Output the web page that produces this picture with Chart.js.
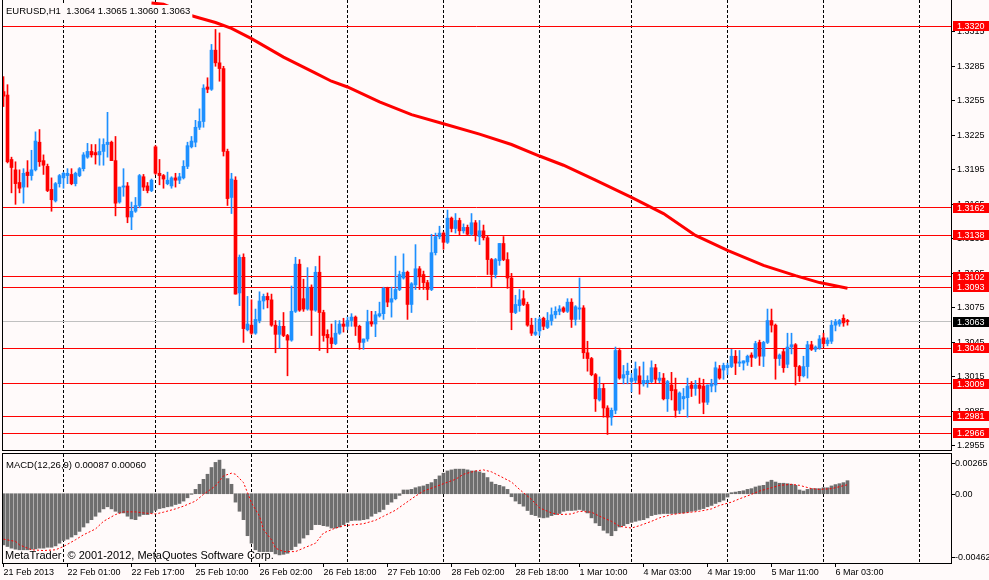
<!DOCTYPE html>
<html><head><meta charset="utf-8">
<script src="https://cdn.jsdelivr.net/npm/chart.js@4.4.0/dist/chart.umd.min.js"></script>
<style>
html,body{margin:0;padding:0;background:#fffafa;width:989px;height:580px;overflow:hidden}
canvas{position:absolute;left:0}
#c1{top:0}
#c2{top:452px}
</style></head><body>
<canvas id="c1" width="989" height="452"></canvas>
<canvas id="c2" width="989" height="128"></canvas>
<script>
// ---- EURUSD H1 candles (bar 0 = 21 Feb 2013 09:00) ----
const openP = [
1.3263,1.3260,1.3204,1.3195,1.3184,1.3180,1.3193,1.3190,1.3195,1.3219,
1.3203,1.3198,1.3178,1.3168,1.3183,1.3188,1.3190,1.3191,1.3183,1.3190,
1.3196,1.3206,1.3211,1.3210,1.3208,1.3211,1.3217,1.3219,1.3203,1.3167,
1.3180,1.3181,1.3154,1.3159,1.3164,1.3189,1.3181,1.3177,1.3215,1.3192,
1.3190,1.3183,1.3181,1.3188,1.3186,1.3188,1.3198,1.3215,1.3219,1.3232,
1.3237,1.3267,1.3265,1.3299,1.3288,1.3283,1.3211,1.3171,1.3186,1.3088,
1.3119,1.3056,1.3060,1.3053,1.3064,1.3081,1.3085,1.3082,1.3060,1.3052,
1.3059,1.3051,1.3047,1.3072,1.3113,1.3083,1.3074,1.3093,1.3073,1.3106,
1.3071,1.3052,1.3049,1.3044,1.3053,1.3061,1.3059,1.3064,1.3067,1.3059,
1.3045,1.3048,1.3063,1.3061,1.3068,1.3070,1.3092,1.3080,1.3083,1.3091,
1.3101,1.3106,1.3078,1.3095,1.3109,1.3104,1.3097,1.3091,1.3123,1.3137,
1.3140,1.3132,1.3153,1.3144,1.3151,1.3142,1.3145,1.3139,1.3149,1.3137,
1.3142,1.3136,1.3117,1.3104,1.3116,1.3131,1.3117,1.3101,1.3071,1.3077,
1.3083,1.3078,1.3060,1.3052,1.3055,1.3066,1.3058,1.3064,1.3069,1.3072,
1.3075,1.3072,1.3080,1.3065,1.3074,1.3075,1.3036,1.3031,1.3017,1.2995,
1.3005,1.2988,1.2980,1.2986,1.3038,1.3014,1.3017,1.3011,1.3012,1.3016,
1.3009,1.3010,1.3011,1.3023,1.3012,1.3014,1.2996,1.3008,1.3004,1.2986,
1.2996,1.2997,1.3008,1.3005,1.3008,1.3007,1.2993,1.3007,1.3008,1.3022,
1.3021,1.3023,1.3024,1.3033,1.3027,1.3027,1.3028,1.3034,1.3032,1.3045,
1.3033,1.3045,1.3064,1.3060,1.3031,1.3037,1.3026,1.3041,1.3043,1.3024,
1.3016,1.3024,1.3043,1.3039,1.3040,1.3049,1.3044,1.3046,1.3060,1.3061,
1.3066,1.3064];
const highP = [
1.3276,1.3269,1.3206,1.3202,1.3195,1.3196,1.3203,1.3212,1.3228,1.3230,
1.3208,1.3200,1.3188,1.3184,1.3191,1.3193,1.3196,1.3196,1.3193,1.3197,
1.3210,1.3218,1.3217,1.3217,1.3222,1.3222,1.3245,1.3220,1.3224,1.3180,
1.3196,1.3184,1.3167,1.3171,1.3191,1.3191,1.3184,1.3187,1.3216,1.3204,
1.3191,1.3193,1.3189,1.3192,1.3192,1.3203,1.3219,1.3224,1.3238,1.3248,
1.3269,1.3275,1.3304,1.3317,1.3314,1.3285,1.3213,1.3192,1.3189,1.3121,
1.3122,1.3085,1.3082,1.3074,1.3089,1.3087,1.3088,1.3087,1.3064,1.3064,
1.3071,1.3052,1.3094,1.3119,1.3117,1.3100,1.3110,1.3095,1.3111,1.3120,
1.3073,1.3056,1.3061,1.3064,1.3064,1.3066,1.3067,1.3070,1.3068,1.3060,
1.3048,1.3073,1.3072,1.3072,1.3080,1.3093,1.3093,1.3093,1.3120,1.3107,
1.3122,1.3107,1.3097,1.3130,1.3111,1.3107,1.3099,1.3139,1.3140,1.3146,
1.3141,1.3160,1.3154,1.3157,1.3153,1.3148,1.3147,1.3157,1.3151,1.3151,
1.3147,1.3138,1.3118,1.3118,1.3131,1.3137,1.3123,1.3105,1.3086,1.3091,
1.3090,1.3080,1.3066,1.3066,1.3067,1.3067,1.3071,1.3075,1.3076,1.3077,
1.3076,1.3083,1.3083,1.3077,1.3101,1.3077,1.3046,1.3032,1.3018,1.3015,
1.3009,1.2990,1.2988,1.3041,1.3040,1.3025,1.3027,1.3018,1.3028,1.3024,
1.3028,1.3016,1.3029,1.3026,1.3019,1.3018,1.3012,1.3019,1.3014,1.3002,
1.3005,1.3014,1.3011,1.3012,1.3014,1.3013,1.3008,1.3013,1.3028,1.3025,
1.3027,1.3027,1.3039,1.3038,1.3038,1.3029,1.3034,1.3036,1.3046,1.3047,
1.3046,1.3074,1.3074,1.3061,1.3035,1.3039,1.3053,1.3053,1.3044,1.3025,
1.3033,1.3046,1.3046,1.3042,1.3051,1.3053,1.3049,1.3064,1.3065,1.3065,
1.3069,1.3065];
const lowP = [
1.3250,1.3201,1.3175,1.3165,1.3175,1.3166,1.3180,1.3186,1.3194,1.3198,
1.3191,1.3176,1.3159,1.3167,1.3180,1.3179,1.3183,1.3182,1.3181,1.3189,
1.3194,1.3205,1.3206,1.3200,1.3199,1.3199,1.3206,1.3203,1.3155,1.3166,
1.3172,1.3149,1.3143,1.3158,1.3162,1.3177,1.3175,1.3176,1.3191,1.3182,
1.3179,1.3182,1.3179,1.3180,1.3183,1.3187,1.3196,1.3214,1.3215,1.3230,
1.3232,1.3262,1.3264,1.3285,1.3272,1.3207,1.3164,1.3157,1.3087,1.3077,
1.3045,1.3055,1.3052,1.3052,1.3062,1.3074,1.3075,1.3059,1.3036,1.3040,
1.3050,1.3016,1.3046,1.3071,1.3072,1.3072,1.3073,1.3051,1.3072,1.3038,
1.3046,1.3036,1.3040,1.3043,1.3052,1.3054,1.3056,1.3059,1.3051,1.3039,
1.3039,1.3046,1.3059,1.3050,1.3067,1.3065,1.3076,1.3067,1.3082,1.3090,
1.3100,1.3065,1.3071,1.3091,1.3091,1.3091,1.3082,1.3090,1.3121,1.3135,
1.3126,1.3131,1.3141,1.3140,1.3138,1.3140,1.3138,1.3138,1.3133,1.3130,
1.3134,1.3104,1.3093,1.3101,1.3112,1.3116,1.3092,1.3056,1.3070,1.3072,
1.3077,1.3059,1.3051,1.3051,1.3051,1.3056,1.3057,1.3060,1.3066,1.3069,
1.3071,1.3071,1.3058,1.3060,1.3065,1.3031,1.3020,1.3016,1.2985,1.2994,
1.2980,1.2965,1.2973,1.2983,1.3013,1.3009,1.3009,1.3002,1.3010,1.3000,
1.3007,1.3006,1.3010,1.3010,1.3010,1.2995,1.2985,1.2995,1.2980,1.2983,
1.2987,1.2980,1.2998,1.2999,1.2992,1.2983,1.2991,1.3002,1.3002,1.3013,
1.3013,1.3017,1.3023,1.3017,1.3024,1.3021,1.3025,1.3024,1.3031,1.3025,
1.3024,1.3044,1.3054,1.3013,1.3025,1.3019,1.3023,1.3035,1.3008,1.3011,
1.3015,1.3014,1.3038,1.3037,1.3039,1.3041,1.3042,1.3044,1.3055,1.3059,
1.3059,1.3060];
const closeP = [
1.3259,1.3202,1.3197,1.3183,1.3179,1.3192,1.3190,1.3195,1.3220,1.3202,
1.3199,1.3177,1.3169,1.3183,1.3190,1.3192,1.3192,1.3183,1.3192,1.3196,
1.3208,1.3211,1.3208,1.3208,1.3211,1.3217,1.3219,1.3203,1.3166,1.3180,
1.3181,1.3154,1.3159,1.3164,1.3190,1.3180,1.3177,1.3186,1.3192,1.3190,
1.3187,1.3186,1.3188,1.3186,1.3189,1.3198,1.3216,1.3220,1.3232,1.3237,
1.3266,1.3265,1.3299,1.3288,1.3283,1.3211,1.3170,1.3187,1.3087,1.3119,
1.3057,1.3061,1.3053,1.3065,1.3081,1.3085,1.3082,1.3060,1.3052,1.3059,
1.3051,1.3047,1.3072,1.3113,1.3073,1.3074,1.3093,1.3073,1.3106,1.3071,
1.3051,1.3049,1.3044,1.3053,1.3061,1.3059,1.3064,1.3067,1.3059,1.3045,
1.3048,1.3063,1.3061,1.3069,1.3070,1.3092,1.3080,1.3083,1.3091,1.3104,
1.3106,1.3078,1.3096,1.3109,1.3102,1.3097,1.3091,1.3123,1.3137,1.3140,
1.3132,1.3153,1.3144,1.3151,1.3142,1.3145,1.3139,1.3149,1.3138,1.3142,
1.3136,1.3117,1.3104,1.3117,1.3131,1.3117,1.3101,1.3071,1.3078,1.3082,
1.3078,1.3060,1.3053,1.3054,1.3065,1.3059,1.3064,1.3069,1.3072,1.3074,
1.3072,1.3080,1.3065,1.3076,1.3075,1.3036,1.3031,1.3017,1.2996,1.3005,
1.2988,1.2980,1.2986,1.3038,1.3014,1.3017,1.3020,1.3014,1.3022,1.3009,
1.3012,1.3012,1.3023,1.3013,1.3014,1.2996,1.3011,1.3003,1.2986,1.3001,
1.2998,1.3007,1.3005,1.3008,1.3005,1.2993,1.3008,1.3009,1.3023,1.3014,
1.3025,1.3025,1.3033,1.3027,1.3028,1.3029,1.3033,1.3032,1.3044,1.3033,
1.3045,1.3064,1.3060,1.3031,1.3034,1.3023,1.3041,1.3043,1.3024,1.3016,
1.3024,1.3043,1.3039,1.3041,1.3048,1.3044,1.3047,1.3060,1.3063,1.3064,
1.3062,1.3063];

// ---- Moving average (read at sampled bars) ----
const maIdx = [37,40,46,49,53,57,62,66,70,74,78,82,86,94,102,110,119,127,134,140,148,157,165,173,181,190,198,204,211];
const maVal = [1.3340,1.3339,1.3330,1.3327,1.3323,1.3318,1.3309,1.3301,1.3293,1.3286,1.3279,1.3272,1.3267,1.3254,1.3243,1.3235,1.3226,1.3217,1.3207,1.3199,1.3186,1.3171,1.3157,1.3138,1.3125,1.3112,1.3103,1.3097,1.3092];

// ---- MACD(12,26,9) histogram ----
const macdHist = [
-0.00341,-0.00352,-0.00363,-0.00370,-0.00374,-0.00374,-0.00374,-0.00370,-0.00368,-0.00363,
-0.00363,-0.00357,-0.00357,-0.00348,-0.00330,-0.00312,-0.00303,-0.00289,-0.00274,-0.00251,
-0.00222,-0.00195,-0.00173,-0.00150,-0.00123,-0.00101,-0.00087,-0.00101,-0.00117,-0.00128,
-0.00128,-0.00150,-0.00168,-0.00173,-0.00150,-0.00139,-0.00139,-0.00128,-0.00110,-0.00099,
-0.00094,-0.00087,-0.00083,-0.00072,-0.00065,-0.00049,-0.00027,-0.00004,0.00029,0.00063,
0.00096,0.00130,0.00175,0.00209,0.00224,0.00164,0.00101,0.00063,-0.00056,-0.00117,
-0.00173,-0.00280,-0.00330,-0.00374,-0.00386,-0.00386,-0.00386,-0.00386,-0.00401,-0.00408,
-0.00404,-0.00397,-0.00374,-0.00352,-0.00330,-0.00296,-0.00274,-0.00240,-0.00206,-0.00206,
-0.00213,-0.00217,-0.00229,-0.00229,-0.00222,-0.00206,-0.00191,-0.00179,-0.00177,-0.00177,
-0.00173,-0.00168,-0.00150,-0.00132,-0.00121,-0.00105,-0.00072,-0.00056,-0.00034,-0.00011,
0.00025,0.00025,0.00029,0.00040,0.00047,0.00052,0.00063,0.00074,0.00096,0.00119,
0.00137,0.00152,0.00159,0.00164,0.00164,0.00164,0.00159,0.00152,0.00152,0.00146,
0.00137,0.00108,0.00078,0.00063,0.00056,0.00047,0.00029,-0.00020,-0.00049,-0.00067,
-0.00083,-0.00112,-0.00139,-0.00146,-0.00157,-0.00161,-0.00157,-0.00146,-0.00139,-0.00132,
-0.00117,-0.00112,-0.00112,-0.00110,-0.00105,-0.00112,-0.00128,-0.00161,-0.00195,-0.00213,
-0.00244,-0.00262,-0.00280,-0.00247,-0.00222,-0.00213,-0.00200,-0.00191,-0.00184,-0.00177,
-0.00173,-0.00161,-0.00146,-0.00139,-0.00135,-0.00132,-0.00132,-0.00132,-0.00132,-0.00128,
-0.00128,-0.00123,-0.00117,-0.00112,-0.00105,-0.00099,-0.00087,-0.00078,-0.00065,-0.00054,
-0.00043,-0.00022,0.00007,0.00011,0.00016,0.00020,0.00029,0.00034,0.00045,0.00052,
0.00056,0.00078,0.00090,0.00078,0.00070,0.00070,0.00067,0.00063,0.00056,0.00025,
0.00018,0.00029,0.00034,0.00034,0.00034,0.00040,0.00040,0.00052,0.00061,0.00067,
0.00074,0.00087];
// ---- MACD signal line (read at sampled bars) ----
const sigIdx = [0,3,4,7,10,13,15,18,20,23,25,28,30,33,35,38,40,43,45,48,50,53,55,57,58,60,61,62,64,65,67,68,70,73,75,78,80,83,85,88,90,93,95,98,100,103,105,108,110,113,115,118,120,122,124,127,129,132,134,137,139,142,144,147,149,152,154,157,159,162,164,167,169,172,174,177,179,182,184,187,189,192,194,197,199,202,204,207,209,211];
const sigVal = [-0.00303,-0.00318,-0.00341,-0.00374,-0.00379,-0.00374,-0.00352,-0.00307,-0.00274,-0.00235,-0.00184,-0.00139,-0.00121,-0.00121,-0.00128,-0.00135,-0.00123,-0.00101,-0.00083,-0.00049,-0.00004,0.00052,0.00119,0.00137,0.00130,0.00074,0.00007,-0.00061,-0.00150,-0.00240,-0.00307,-0.00363,-0.00386,-0.00386,-0.00363,-0.00330,-0.00262,-0.00229,-0.00213,-0.00206,-0.00200,-0.00177,-0.00150,-0.00110,-0.00072,-0.00016,0.00018,0.00047,0.00067,0.00096,0.00130,0.00152,0.00159,0.00146,0.00119,0.00078,0.00029,-0.00038,-0.00094,-0.00128,-0.00139,-0.00135,-0.00117,-0.00123,-0.00150,-0.00184,-0.00217,-0.00229,-0.00213,-0.00184,-0.00161,-0.00139,-0.00132,-0.00123,-0.00117,-0.00101,-0.00078,-0.00056,-0.00034,-0.00004,0.00018,0.00040,0.00056,0.00063,0.00056,0.00034,0.00029,0.00034,0.00047,0.00060];

// ---- Levels, ticks, labels ----
const hLevels = [1.3320,1.3162,1.3138,1.3102,1.3093,1.3040,1.3009,1.2981,1.2966];
const bidPrice = 1.3063;
const yTicks = [1.3315,1.3285,1.3255,1.3225,1.3195,1.3165,1.3135,1.3105,1.3075,1.3045,1.3015,1.2985,1.2955];
const macdTicks = [0.00265,0.00,-0.00462];
const macdTickText = ["0.00265","0.00","-0.00462"];
const xLabelIdx = [0,16,32,48,64,80,96,112,128,144,160,176,192,208];
const xLabels = ["21 Feb 2013","22 Feb 01:00","22 Feb 17:00","25 Feb 10:00","26 Feb 02:00","26 Feb 18:00","27 Feb 10:00","28 Feb 02:00","28 Feb 18:00","1 Mar 10:00","4 Mar 03:00","4 Mar 19:00","5 Mar 11:00","6 Mar 03:00"];
const dayStartIdx = [15,38,62,86,110,134,157,181,205,229];
const headerText = "EURUSD,H1  1.3064 1.3065 1.3060 1.3063";
const macdText = "MACD(12,26,9) 0.00087 0.00060";
const copyText = "MetaTrader  \u00A9 2001-2012, MetaQuotes Software Corp.";

// ---- view settings ----
const XMIN = -0.375, XMAX = 236.875;
const YMIN = 1.29515, YMAX = 1.33426;
const BULL = '#1e90ff', BEAR = '#ff0000', BG = '#fffafa';
const FONT = '"Liberation Sans", Arial, sans-serif';
const AXSIZE = 9;

const barIdx = openP.map((_, i) => i);
const candleColors = barIdx.map(i => closeP[i] >= openP[i] ? BULL : BEAR);

function drawDays(chart) {
  const {ctx, chartArea: a, scales: {x}} = chart;
  ctx.save();
  ctx.beginPath(); ctx.rect(a.left, a.top, a.right - a.left, a.bottom - a.top); ctx.clip();
  ctx.strokeStyle = '#000'; ctx.lineWidth = 1; ctx.setLineDash([3, 2]);
  ctx.beginPath();
  dayStartIdx.forEach(i => {
    const px = x.getPixelForValue(i);
    ctx.moveTo(px, a.top); ctx.lineTo(px, a.bottom);
  });
  ctx.stroke();
  ctx.restore();
}

const pricePlugin = {
  id: 'priceDecor',
  beforeDatasetsDraw(chart) {
    const {ctx, chartArea: a, scales: {y}} = chart;
    drawDays(chart);
    ctx.save();
    ctx.lineWidth = 1;
    const hl = (p, col) => {
      const py = Math.floor(y.getPixelForValue(p)) + 0.5;
      ctx.strokeStyle = col; ctx.beginPath(); ctx.moveTo(a.left, py); ctx.lineTo(a.right, py); ctx.stroke();
    };
    hl(bidPrice, '#c0c0c0');
    hLevels.forEach(p => hl(p, '#ff0000'));
    ctx.restore();
  },
  afterDraw(chart) {
    const {ctx, chartArea: a, scales: {y}} = chart;
    ctx.save();
    ctx.strokeStyle = '#000'; ctx.lineWidth = 1;
    ctx.beginPath();
    ctx.moveTo(a.left + 0.5, a.top); ctx.lineTo(a.left + 0.5, a.bottom + 1);
    ctx.moveTo(a.left, a.bottom + 0.5); ctx.lineTo(a.right, a.bottom + 0.5);
    ctx.stroke();
    ctx.font = AXSIZE + 'px ' + FONT; ctx.textBaseline = 'middle'; ctx.textAlign = 'left';
    const box = (p, col) => {
      const py = Math.round(y.getPixelForValue(p));
      ctx.fillStyle = col; ctx.fillRect(a.right + 2, py - 5, 36, 10);
      ctx.fillStyle = '#fff'; ctx.fillText(p.toFixed(4), a.right + 6, py + 0.5);
    };
    hLevels.forEach(p => box(p, '#ff0000'));
    box(bidPrice, '#000');
    // header
    ctx.font = '9.5px ' + FONT;
    const w = ctx.measureText(headerText).width;
    ctx.fillStyle = BG; ctx.fillRect(4, 5, w + 4, 13);
    ctx.fillStyle = '#000'; ctx.fillText(headerText, 6, 11.5);
    ctx.restore();
  }
};

const macdPlugin = {
  id: 'macdDecor',
  beforeDatasetsDraw(chart) { drawDays(chart); },
  afterDraw(chart) {
    const {ctx, chartArea: a, scales: {y}} = chart;
    ctx.save();
    ctx.strokeStyle = '#000'; ctx.lineWidth = 1;
    ctx.beginPath();
    ctx.moveTo(a.left + 0.5, a.top - 1); ctx.lineTo(a.left + 0.5, a.bottom);
    ctx.moveTo(a.left, a.top - 0.5); ctx.lineTo(a.right + 1, a.top - 0.5);
    ctx.stroke();
    ctx.fillStyle = '#000'; ctx.textBaseline = 'middle'; ctx.textAlign = 'left';
    ctx.font = AXSIZE + 'px ' + FONT;
    const offs = [9, 0, -6];
    macdTicks.forEach((v, k) => {
      const py = Math.round(y.getPixelForValue(v) + offs[k]);
      ctx.beginPath(); ctx.moveTo(a.right, py + 0.5); ctx.lineTo(a.right + 4, py + 0.5); ctx.stroke();
      ctx.fillText(macdTickText[k], a.right + 4, py + 0.5);
    });
    ctx.font = '9.5px ' + FONT;
    ctx.fillText(macdText, 6, a.top + 11.5);
    ctx.font = '11px ' + FONT;
    ctx.fillText(copyText, 5, a.bottom - 7.5);
    ctx.restore();
  }
};

new Chart(document.getElementById('c1'), {
  type: 'bar',
  data: {
    datasets: [
      {type: 'line', label: 'MA', data: maIdx.map((x, k) => ({x, y: maVal[k]})),
       borderColor: '#ff0000', borderWidth: 3, pointRadius: 0, tension: 0, order: 0},
      {label: 'body', data: barIdx.map(i => ({x: i, y: [openP[i], closeP[i]]})),
       backgroundColor: candleColors, barThickness: 3, minBarLength: 1, grouped: false, borderWidth: 0, order: 1},
      {label: 'wick', data: barIdx.map(i => ({x: i, y: [lowP[i], highP[i]]})),
       backgroundColor: candleColors, barThickness: 1, grouped: false, borderWidth: 0, order: 2}
    ]
  },
  options: {
    responsive: false, animation: false, devicePixelRatio: 1, events: [],
    layout: {padding: {left: 2, top: 0, right: 0, bottom: 2}},
    plugins: {legend: {display: false}, tooltip: {enabled: false}},
    scales: {
      x: {type: 'linear', min: XMIN, max: XMAX, offset: false, display: false, grid: {offset: false}},
      y: {position: 'right', min: YMIN, max: YMAX, beginAtZero: false,
          afterBuildTicks: s => { s.ticks = yTicks.map(v => ({value: v})); },
          afterFit: s => { s.width = 38; s.paddingTop = 0; s.paddingBottom = 0; },
          ticks: {callback: v => Number(v).toFixed(4), color: '#000', font: {family: FONT, size: AXSIZE}, padding: 2, autoSkip: false},
          grid: {drawOnChartArea: false, drawTicks: true, tickLength: 4, color: '#000'},
          border: {display: true, color: '#000', width: 1}}
    }
  },
  plugins: [pricePlugin]
});

new Chart(document.getElementById('c2'), {
  type: 'bar',
  data: {
    datasets: [
      {type: 'line', label: 'Signal', data: sigIdx.map((x, k) => ({x, y: sigVal[k]})),
       borderColor: '#ff0000', borderWidth: 1, borderDash: [2, 2], pointRadius: 0, tension: 0, order: 0},
      {label: 'MACD', data: barIdx.map(i => ({x: i, y: macdHist[i]})),
       backgroundColor: '#6e6e6e', barThickness: 3, grouped: false, borderWidth: 0, order: 1}
    ]
  },
  options: {
    responsive: false, animation: false, devicePixelRatio: 1, events: [],
    layout: {padding: {left: 2, top: 2, right: 0, bottom: 0}},
    plugins: {legend: {display: false}, tooltip: {enabled: false}},
    scales: {
      x: {type: 'linear', position: 'bottom', min: XMIN, max: XMAX, offset: false,
          afterBuildTicks: s => { s.ticks = xLabelIdx.map(v => ({value: v})); },
          afterFit: s => { s.height = 17; s.paddingLeft = 0; s.paddingRight = 0; },
          ticks: {autoSkip: false, maxRotation: 0, minRotation: 0, align: 'start', padding: 0,
                  color: '#000', font: {family: FONT, size: AXSIZE}, callback: (v, idx) => xLabels[idx]},
          grid: {offset: false, drawOnChartArea: false, drawTicks: true, tickLength: 4, color: '#000'},
          border: {display: true, color: '#000', width: 1}},
      y: {position: 'right', min: -0.00462, max: 0.00265, beginAtZero: false,
          afterFit: s => { s.width = 38; s.paddingTop = 0; s.paddingBottom = 0; },
          ticks: {display: false}, grid: {display: false},
          border: {display: true, color: '#000', width: 1}}
    }
  },
  plugins: [macdPlugin]
});
</script>
</body></html>
